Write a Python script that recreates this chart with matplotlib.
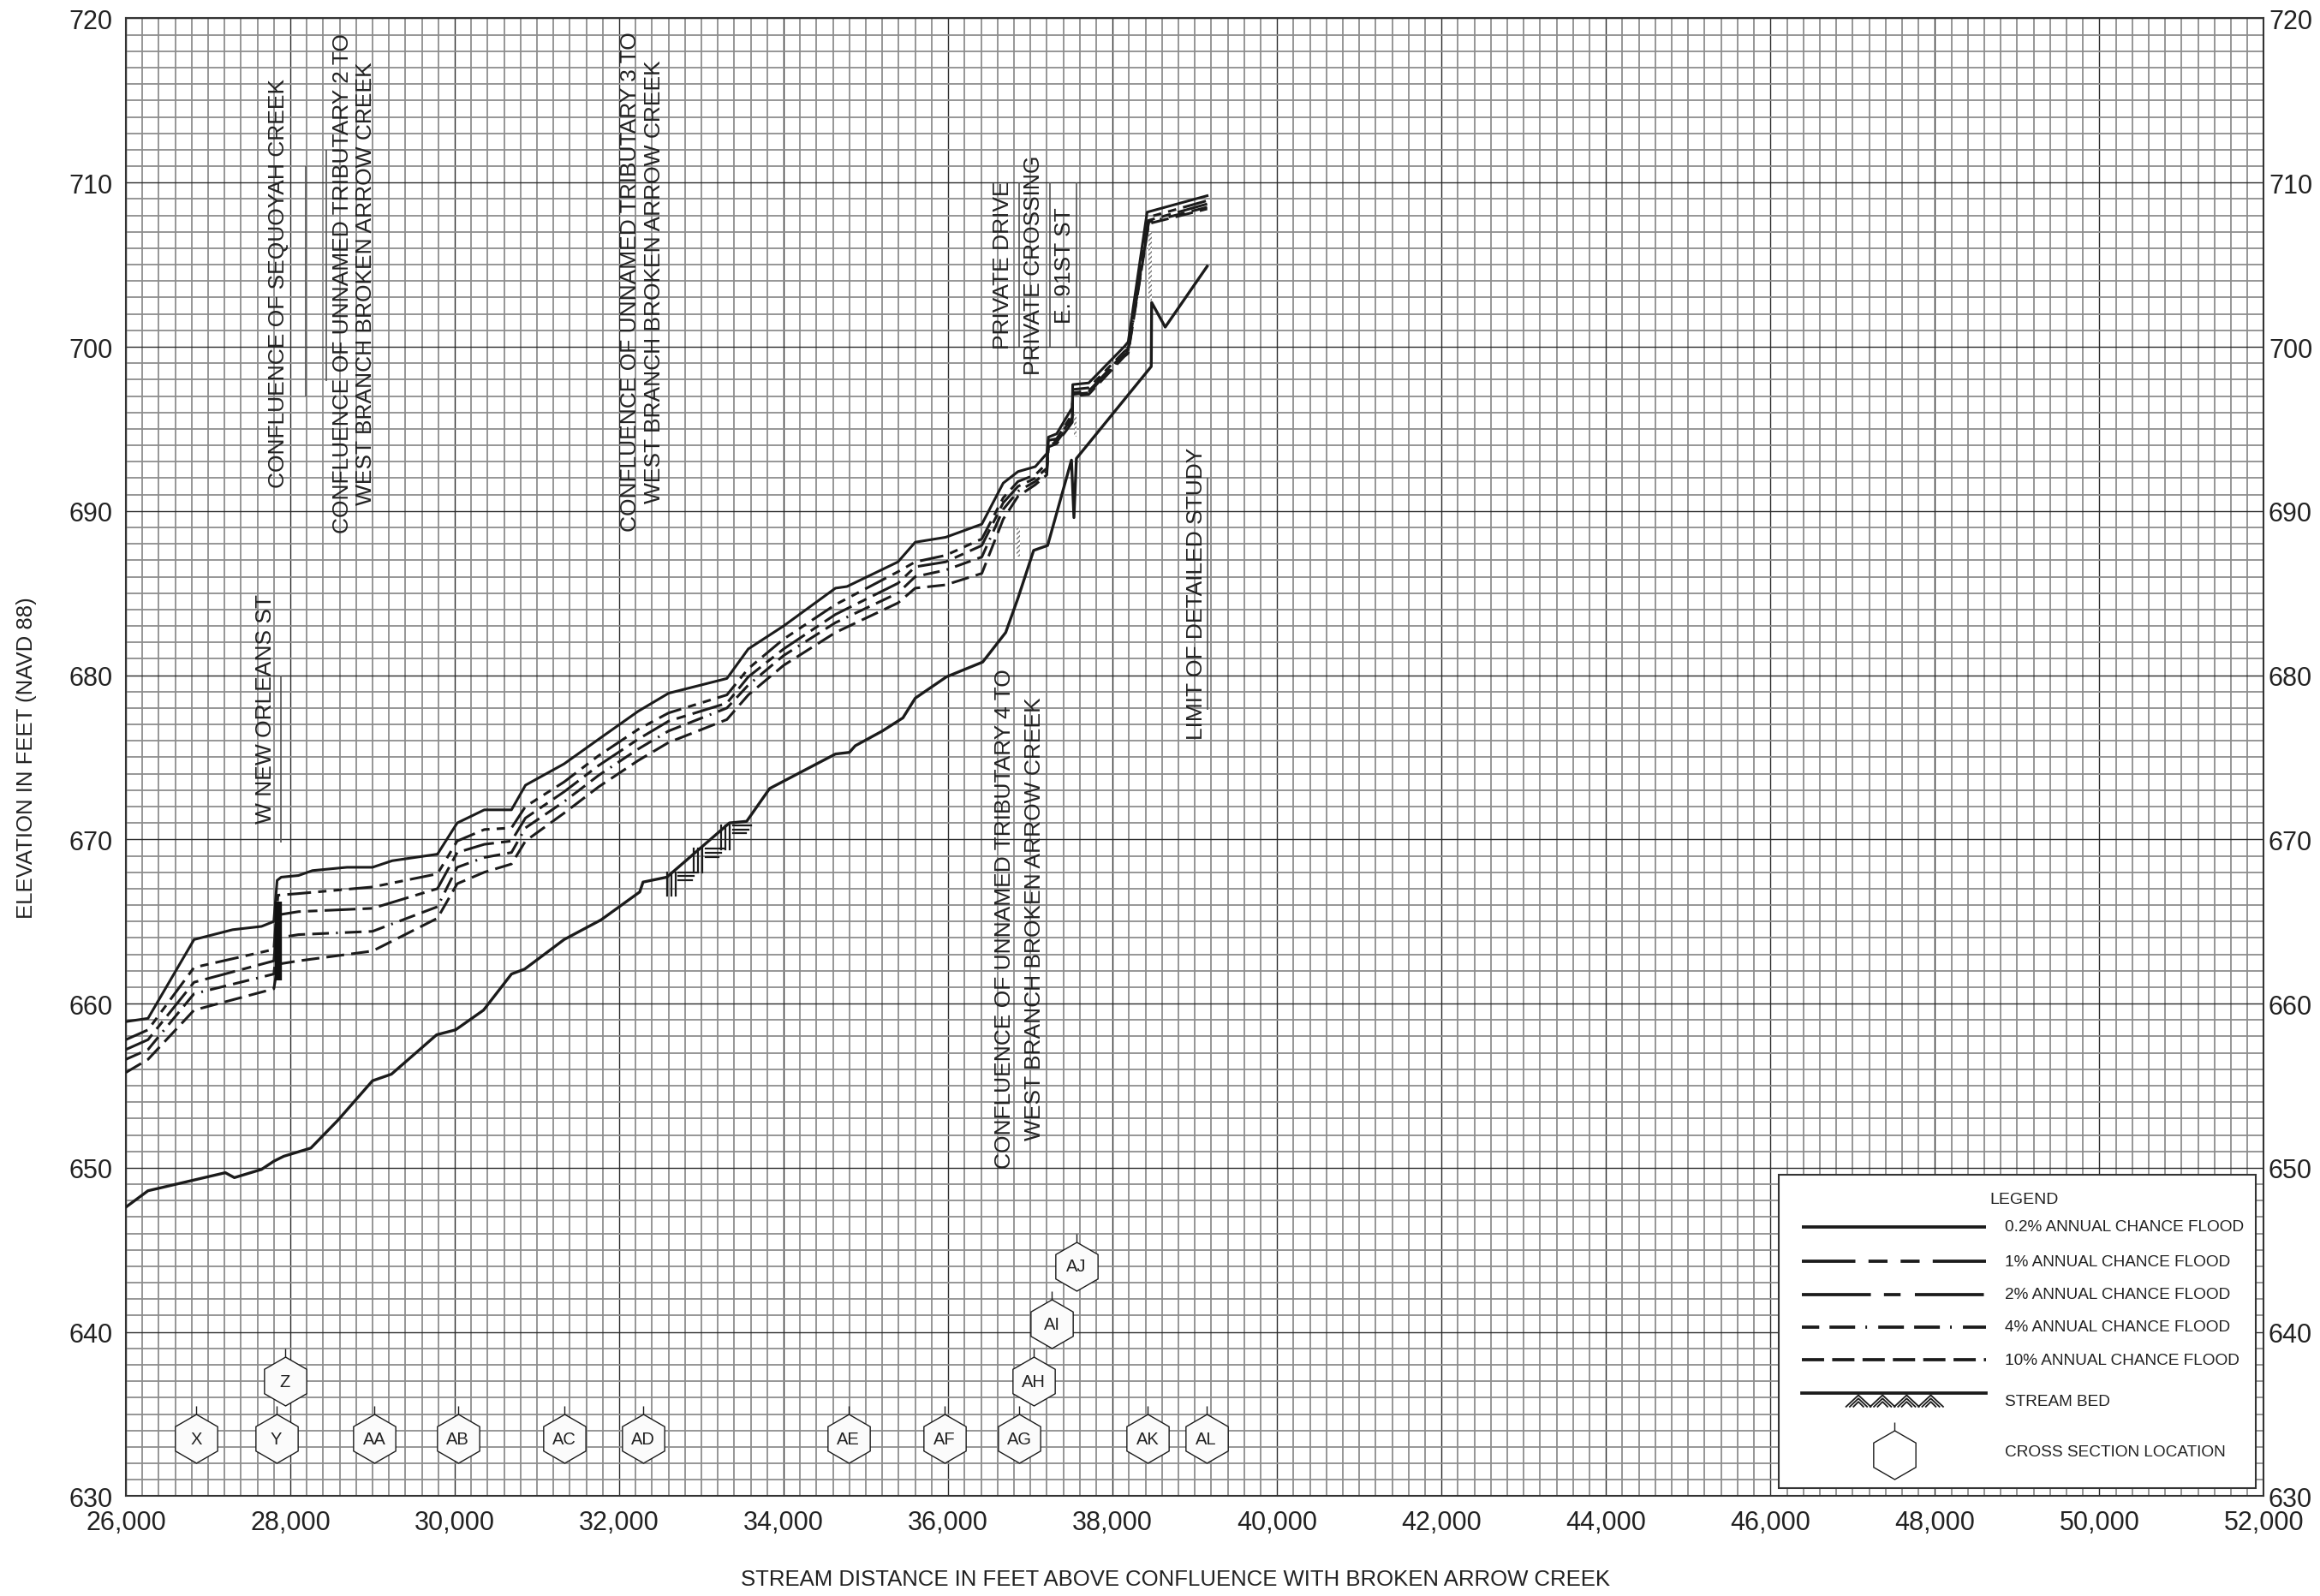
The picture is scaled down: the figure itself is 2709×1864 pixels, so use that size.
"""
Flood profile, West Branch Broken Arrow Creek
stream distance 26,000 - 52,000 ft, elevation 630 - 720 ft (NAVD 88)
"""
import numpy as np
import matplotlib
matplotlib.use('Agg')
from matplotlib import pyplot as plt
from matplotlib.ticker import MultipleLocator, FuncFormatter
from matplotlib.patches import Rectangle

plt.rcParams['font.family'] = ['Liberation Sans', 'DejaVu Sans']
plt.rcParams['lines.scale_dashes'] = False
plt.rcParams['hatch.linewidth'] = 1.0

# ---- profile data (stream distance in ft, water surface elevation in ft) ----
p02_x = [26000, 26270, 26830, 27300, 27650, 27800, 27840, 27890, 28100, 28270,
         28690, 29000, 29240, 29790, 30030, 30360, 30690, 30860, 31330, 31750,
         32230, 32600, 33310, 33570, 34000, 34630, 34770, 35390, 35600, 35970,
         36410, 36670, 36850, 37060, 37200, 37220, 37320, 37510, 37515, 37710,
         38140, 38190, 38420, 39150]
p02_y = [658.9, 659.1, 663.9, 664.5, 664.7, 665.0, 667.5, 667.7, 667.8, 668.1,
         668.3, 668.3, 668.7, 669.1, 671.0, 671.8, 671.8, 673.3, 674.6, 676.1,
         677.8, 678.9, 679.8, 681.6, 683.0, 685.3, 685.4, 686.9, 688.1, 688.4,
         689.2, 691.7, 692.4, 692.7, 693.5, 694.5, 694.7, 696.3, 697.7, 697.8,
         700.0, 700.3, 708.2, 709.2]

# 1%, 2%, 4% and 10% profiles share the same break points
prof_x = [26000, 26270, 26830, 27800, 27850, 28100, 29000, 29790, 30030, 30360,
          30690, 30860, 31330, 31750, 32230, 32600, 33310, 33570, 34000, 34630,
          35390, 35600, 35970, 36410, 36670, 36850, 37060, 37200, 37220, 37320,
          37510, 37515, 37710, 38140, 38190, 38440, 39150]
p1_y = [657.8, 658.4, 662.2, 663.3, 666.6, 666.7, 667.1, 667.9, 669.9, 670.6,
        670.7, 672.0, 673.5, 675.1, 676.7, 677.7, 678.8, 680.4, 682.2, 684.3,
        686.3, 686.9, 687.3, 688.3, 690.8, 691.8, 692.2, 692.9, 694.3, 694.4,
        695.9, 697.4, 697.5, 699.7, 699.9, 707.9, 708.9]
p2_y = [657.2, 657.8, 661.3, 662.6, 665.4, 665.6, 665.8, 667.0, 669.2, 669.7,
        669.9, 671.3, 672.9, 674.5, 676.1, 677.2, 678.3, 679.9, 681.6, 683.7,
        685.6, 686.6, 686.9, 687.9, 690.5, 691.5, 692.0, 692.6, 694.1, 694.3,
        695.7, 697.2, 697.3, 699.6, 699.8, 707.7, 708.7]
p4_y = [656.6, 657.2, 660.6, 661.8, 664.0, 664.2, 664.4, 665.9, 668.3, 668.9,
        669.2, 670.7, 672.3, 673.9, 675.5, 676.6, 678.0, 679.4, 681.2, 683.2,
        685.0, 686.0, 686.4, 687.2, 690.1, 691.2, 691.8, 692.4, 694.0, 694.2,
        695.5, 697.1, 697.2, 699.5, 699.7, 707.6, 708.5]
p10_y = [655.8, 656.6, 659.6, 660.9, 662.4, 662.6, 663.2, 665.2, 667.3, 668.0,
         668.5, 669.9, 671.6, 673.2, 674.8, 675.9, 677.3, 678.8, 680.6, 682.6,
         684.4, 685.3, 685.5, 686.2, 689.5, 690.9, 691.6, 692.2, 693.9, 694.1,
         695.4, 697.0, 697.1, 699.4, 699.6, 707.5, 708.4]

# stream bed
bed_x = [26000, 26270, 27210, 27320, 27650, 27800, 27920, 28250, 28580, 29000,
         29230, 29780, 30010, 30350, 30690, 30850, 31330, 31780, 32250, 32290,
         32580, 33340, 33550, 33830, 34630, 34800, 34870, 35200, 35450, 35600,
         35980, 36420, 36700, 36850, 37040, 37210, 37500, 37530, 37560, 38470,
         38475, 38640, 39150]
bed_y = [647.6, 648.6, 649.7, 649.4, 649.9, 650.4, 650.7, 651.2, 652.9, 655.3,
         655.7, 658.1, 658.4, 659.6, 661.8, 662.1, 663.9, 665.1, 666.8, 667.4,
         667.7, 671.0, 671.1, 673.1, 675.2, 675.3, 675.7, 676.6, 677.4, 678.6,
         679.9, 680.8, 682.6, 684.7, 687.6, 687.9, 693.1, 689.6, 693.2, 698.8,
         702.7, 701.2, 704.9]
bed_hatch_x = [32580, 32910, 33240]

# cross section locations
xs_labels = ['X', 'Y', 'Z', 'AA', 'AB', 'AC', 'AD', 'AE', 'AF', 'AG',
             'AH', 'AI', 'AJ', 'AK', 'AL']
xs_dist = [26855, 27830, 27935, 29025, 30040, 31333, 32295, 34789, 35960, 36865,
           37036, 37263, 37562, 38430, 39139]
xs_elev = [633.5, 633.5, 637.0, 633.5, 633.5, 633.5, 633.5, 633.5, 633.5, 633.5,
           637.0, 640.5, 644.0, 633.5, 633.5]

# bridge deck at W New Orleans St
deck_x = 27850
deck_y = (661.4, 666.2)

# small hatched culvert marks
culv_x = [36835, 37525, 38440]
culv_y0 = [687.2, 694.5, 702.8]
culv_y1 = [689.0, 695.9, 707.0]

# labels along the profile: text, x, centre elevation
notes = [
    ('W NEW ORLEANS ST', 27695, 678.0),
    ('CONFLUENCE OF SEQUOYAH CREEK', 27850, 703.9),
    ('CONFLUENCE OF UNNAMED TRIBUTARY 2 TO', 28641, 703.9),
    ('WEST BRANCH BROKEN ARROW CREEK', 28921, 703.9),
    ('CONFLUENCE OF UNNAMED TRIBUTARY 3 TO', 32136, 704.0),
    ('WEST BRANCH BROKEN ARROW CREEK', 32424, 704.0),
    ('CONFLUENCE OF UNNAMED TRIBUTARY 4 TO', 36690, 665.2),
    ('WEST BRANCH BROKEN ARROW CREEK', 37055, 665.2),
    ('PRIVATE DRIVE', 36666, 705.0),
    ('PRIVATE CROSSING', 37038, 705.0),
    ('E. 91ST ST', 37419, 705.0),
    ('LIMIT OF DETAILED STUDY', 39017, 685.0),
]
# thin leader lines beside the labels
lead_x = [27889, 28190, 28442, 36860, 37240, 37558, 39155]
lead_y0 = [669.8, 697.0, 697.9, 700.0, 700.0, 700.0, 677.9]
lead_y1 = [680.0, 711.0, 712.0, 710.0, 710.0, 710.0, 692.0]

legend_labels = ['0.2% ANNUAL CHANCE FLOOD', '1% ANNUAL CHANCE FLOOD',
                 '2% ANNUAL CHANCE FLOOD', '4% ANNUAL CHANCE FLOOD',
                 '10% ANNUAL CHANCE FLOOD']

INK = '#1b1b1b'
plot_styles = ['-', (0, (20, 6, 7, 6, 7, 6)), (0, (26, 6, 8, 6)),
               (0, (14, 6, 14, 6, 1.5, 6)), (0, (15, 6))]
legend_styles = ['-', (0, (45, 11, 16, 11, 16, 11)), (0, (58, 11, 14, 12)),
                 (7, (21.6, 8.6, 21.6, 8.6, 1.4, 9.4)), (0, (18.7, 6.8))]

fig = plt.figure(figsize=(27.09, 18.65), dpi=100)
ax = fig.add_axes([0.05423, 0.06252, 0.92156, 0.92542])
ax.set_xlim(26000, 52000)
ax.set_ylim(630, 720)

# graph paper grid
ax.xaxis.set_major_locator(MultipleLocator(2000))
ax.xaxis.set_minor_locator(MultipleLocator(200))
ax.yaxis.set_major_locator(MultipleLocator(10))
ax.yaxis.set_minor_locator(MultipleLocator(1))
ax.grid(which='minor', color='#8e8e8e', lw=1.3)
ax.grid(which='major', color='#2b2b2b', lw=1.0)
ax.set_axisbelow(True)
ax.xaxis.set_major_formatter(FuncFormatter(lambda v, p: f'{int(v):,}'))
ax.tick_params(which='both', length=0)
ax.tick_params(axis='x', pad=11, labelsize=22, colors='#222222')
ax.tick_params(axis='y', pad=11, labelsize=22, colors='#222222')
for s in ax.spines.values():
    s.set_color('#333333')
    s.set_linewidth(1.5)

ax2 = ax.twinx()
ax2.set_ylim(630, 720)
ax2.yaxis.set_major_locator(MultipleLocator(10))
ax2.tick_params(length=0, pad=4, labelsize=22, colors='#222222')
for s in ax2.spines.values():
    s.set_visible(False)

# flood profiles
ax.plot(p02_x, p02_y, color=INK, lw=2.2, ls=plot_styles[0], zorder=3)
for yy, st in zip([p1_y, p2_y, p4_y, p10_y], plot_styles[1:]):
    ax.plot(prof_x, yy, color=INK, lw=2.2, ls=st, zorder=3)

# stream bed and its hatch symbol
ax.plot(bed_x, bed_y, color=INK, lw=2.4, zorder=3)
for xa in bed_hatch_x:
    yb = np.interp(xa, bed_x, bed_y)
    for k in range(3):
        ax.plot([xa + k * 52, xa + k * 52], [yb - 1.15, yb + 0.3], color=INK, lw=1.6, zorder=3)
        ax.plot([xa + 140, xa + 360 - k * 30], [yb + 0.3 - k * 0.25] * 2, color=INK, lw=1.6, zorder=3)

ax.vlines(deck_x, deck_y[0], deck_y[1], color='#111111', lw=6, zorder=3)
for cx, c0, c1 in zip(culv_x, culv_y0, culv_y1):
    ax.add_patch(Rectangle((cx, c0), 38, c1 - c0, facecolor='white',
                           edgecolor='#777777', hatch='//////', lw=0, zorder=2))

# labels with their leader lines
for txt, nx, ny in notes:
    ax.text(nx, ny, txt, rotation=90, ha='center', va='center',
            fontsize=19, color='#222222', zorder=4)
ax.vlines(lead_x, lead_y0, lead_y1, color='#555555', lw=1.2, zorder=2)

# cross section hexagons
xs_elev = np.array(xs_elev)
ax.vlines(xs_dist, xs_elev + 1.45, xs_elev + 2.0, color=INK, lw=1.0, zorder=4)
ax.plot(xs_dist, xs_elev, ls='none', marker='h', ms=41, mfc='#fbfbfb',
        mec=INK, mew=1.0, zorder=5)
for lab, xd, yd in zip(xs_labels, xs_dist, xs_elev):
    ax.text(xd, yd, lab, ha='center', va='center', fontsize=14.5, color='#222222', zorder=6)

# legend box
ax.add_patch(Rectangle((46100, 630.5), 5800, 19.05, facecolor='white',
                       edgecolor='#333333', lw=1.5, zorder=6))
ax.text(49085, 648.1, 'LEGEND', ha='center', va='center', fontsize=14, color='#222222', zorder=7)
row_y = [646.4, 644.3, 642.3, 640.3, 638.3]
for lab, st, ry in zip(legend_labels, legend_styles, row_y):
    ax.plot([46386, 48617], [ry, ry], color=INK, lw=2.7, ls=st, zorder=7,
            solid_capstyle='butt', dash_capstyle='butt')
    ax.text(48851, ry, lab, ha='left', va='center', fontsize=13.7, color='#222222', zorder=7)

ax.plot([46386, 48617], [636.3, 636.3], color=INK, lw=2.7, zorder=7)
for cx in np.linspace(47070, 47950, 4):
    for k in range(3):
        ax.plot([cx - 150 + k * 45, cx, cx + 150 - k * 45],
                [635.45, 636.15 - k * 0.2, 635.45], color=INK, lw=1.3, zorder=7)
ax.text(48851, 635.8, 'STREAM BED', ha='left', va='center', fontsize=13.7, color='#222222', zorder=7)

ax.vlines(47502, 632.5 + 1.45, 632.5 + 2.0, color=INK, lw=1.0, zorder=7)
ax.plot([47502], [632.5], ls='none', marker='h', ms=41, mfc='white', mec=INK, mew=1.0, zorder=7)
ax.text(48851, 632.7, 'CROSS SECTION LOCATION', ha='left', va='center', fontsize=13.7,
        color='#222222', zorder=7)

fig.text(0.0116, 0.5252, 'ELEVATION IN FEET (NAVD 88)', rotation=90,
         ha='center', va='center', fontsize=18.5, color='#222222')
fig.text(0.5068, 0.0107, 'STREAM DISTANCE IN FEET ABOVE CONFLUENCE WITH BROKEN ARROW CREEK',
         ha='center', va='center', fontsize=18.5, color='#222222')

fig.savefig('out.png', dpi=100)
